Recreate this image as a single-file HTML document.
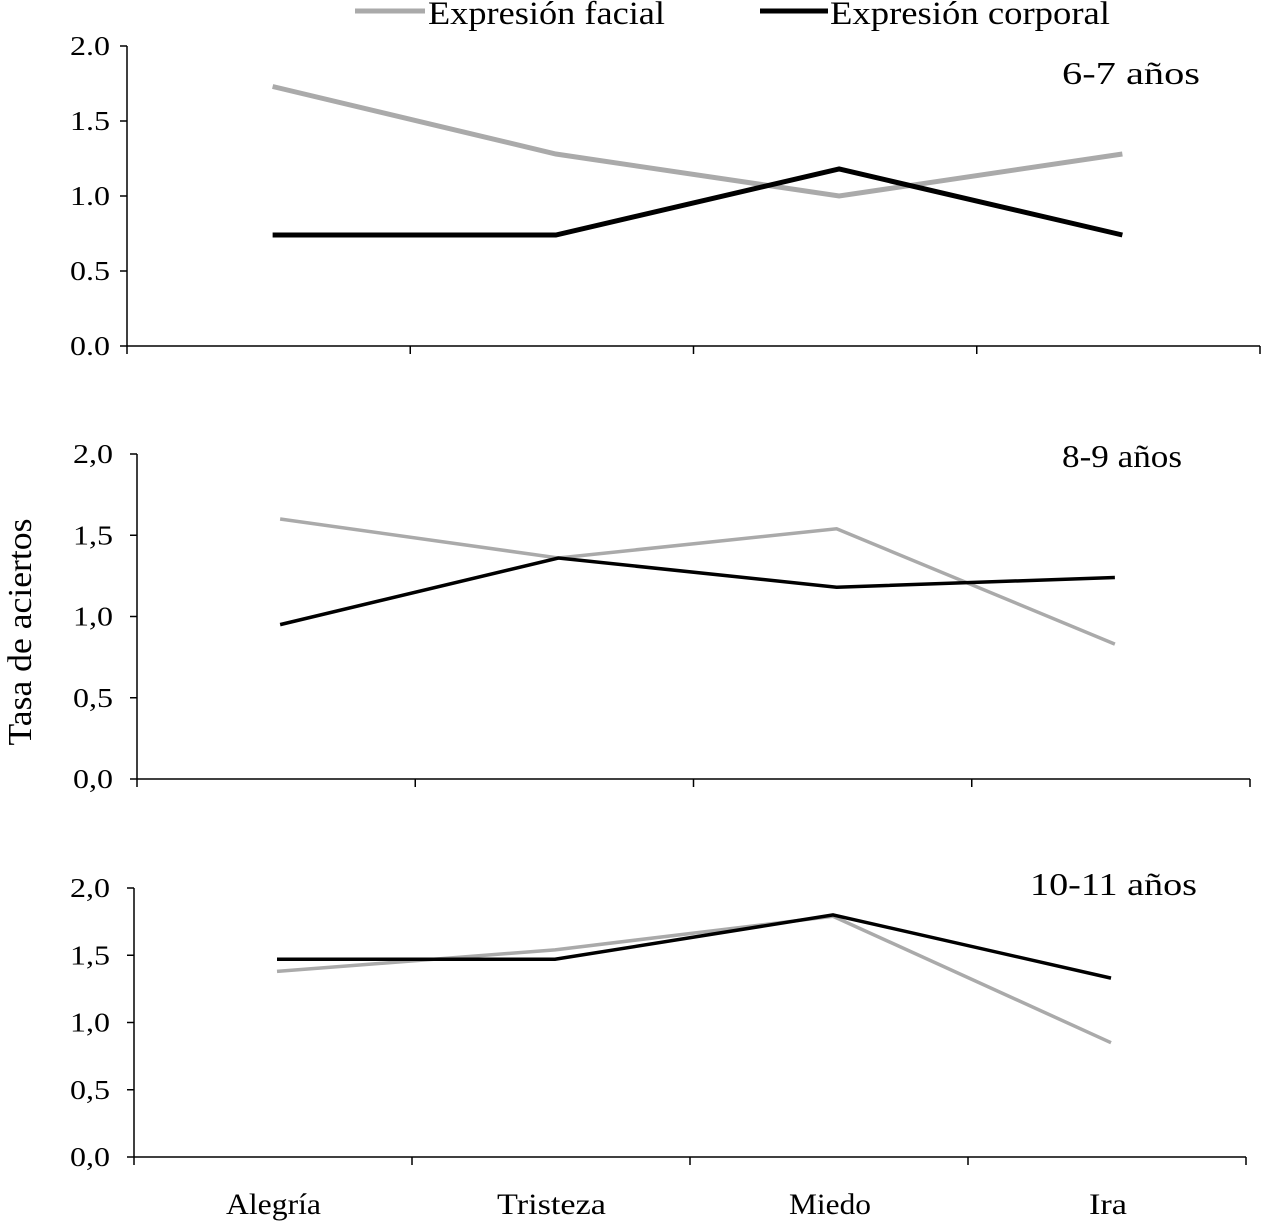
<!DOCTYPE html>
<html><head><meta charset="utf-8"><style>
body{margin:0;background:#fff}
svg text{font-family:"Liberation Serif",serif;fill:#000}
</style></head><body>
<svg width="1261" height="1223" xmlns="http://www.w3.org/2000/svg">
<g id="root"></g>
</svg>
<script>
const categories=["Alegría","Tristeza","Miedo","Ira"];
const facial1=[1.73,1.28,1.0,1.28];
const corporal1=[0.74,0.74,1.18,0.74];
const facial2=[1.6,1.36,1.54,0.83];
const corporal2=[0.95,1.36,1.18,1.24];
const facial3=[1.38,1.54,1.79,0.85];
const corporal3=[1.47,1.47,1.80,1.33];
const ticks1=["0.0","0.5","1.0","1.5","2.0"];
const ticks23=["0,0","0,5","1,0","1,5","2,0"];
const tickVals=[0,0.5,1,1.5,2];
const NS="http://www.w3.org/2000/svg";
const root=document.getElementById('root');
function mk(tag,attrs,parent){const e=document.createElementNS(NS,tag);for(const k in attrs)e.setAttribute(k,attrs[k]);(parent||root).appendChild(e);return e;}
function panel(p){
  const g=mk('g',{});
  
  
  const y=v=>p.y0-(v/2)*(p.y0-p.y2);
  const step=(p.x1-p.x0)/categories.length;
  const x=i=>p.x0+step*(i+0.5)+p.off;
  mk('line',{x1:p.x0,y1:p.y2,x2:p.x0,y2:p.y0,stroke:'#000','stroke-width':1.5},g);
  mk('line',{x1:p.x0,y1:p.y0,x2:p.x1,y2:p.y0,stroke:'#000','stroke-width':1.5},g);
  tickVals.forEach((v,i)=>{
    mk('line',{x1:p.x0-7,y1:y(v),x2:p.x0,y2:y(v),stroke:'#000','stroke-width':1.5},g);
    const t=mk('text',{x:p.x0-p.tg-40,y:y(v)+9,'font-size':27,textLength:40,lengthAdjust:'spacingAndGlyphs'},g);
    t.textContent=p.ticks[i];
    
    
  });
  for(let i=0;i<=categories.length;i++){
    const xx=p.x0+step*i;
    mk('line',{x1:xx,y1:p.y0,x2:xx,y2:p.y0+8,stroke:'#000','stroke-width':1.5},g);
  }
  [[p.f,'#aaaaaa','facial-line'],[p.c,'#000','corporal-line']].forEach(([d,col,n])=>{
    const l=mk('polyline',{points:d.map((v,i)=>x(i)+','+y(v)).join(' '),fill:'none',stroke:col,'stroke-width':p.sw},g);
    
    
  });
  const t=mk('text',{x:p.lx,y:p.ly,'font-size':32,textLength:p.lw,lengthAdjust:'spacingAndGlyphs'},g);
  t.textContent=p.label;
  
  
}
panel({name:'panel-6-7',x0:127,x1:1260,y0:346,y2:46,f:facial1,c:corporal1,ticks:ticks1,sw:5,off:4,tg:17,label:'6-7 años',lx:1062,ly:84,lw:138});
panel({name:'panel-8-9',x0:137,x1:1250,y0:779,y2:454,f:facial2,c:corporal2,ticks:ticks23,sw:3.5,off:4,tg:24,label:'8-9 años',lx:1062,ly:467,lw:120});
panel({name:'panel-10-11',x0:134,x1:1246,y0:1157,y2:888,f:facial3,c:corporal3,ticks:ticks23,sw:3.5,off:4,tg:24,label:'10-11 años',lx:1030,ly:895,lw:167});
const catX=[226,497,789,1089];
const catW=[95,109,82,38];
categories.forEach((c,i)=>{
  const t=mk('text',{x:catX[i],y:1214,'font-size':30,textLength:catW[i],lengthAdjust:'spacingAndGlyphs'});
  t.textContent=c;
  
  
});
const yt=mk('text',{x:0,y:0,'text-anchor':'middle','font-size':34,textLength:227,lengthAdjust:'spacingAndGlyphs',transform:'translate(31,632) rotate(-90)'});
yt.textContent='Tasa de aciertos';


const lg=mk('g',{});


mk('line',{x1:355,y1:11,x2:425,y2:11,stroke:'#aaaaaa','stroke-width':5},lg);
let lt=mk('text',{x:428,y:24,'font-size':33,textLength:237,lengthAdjust:'spacingAndGlyphs'},lg);lt.textContent='Expresión facial';
mk('line',{x1:760,y1:11,x2:828,y2:11,stroke:'#000','stroke-width':5},lg);
lt=mk('text',{x:830,y:24,'font-size':33,textLength:280,lengthAdjust:'spacingAndGlyphs'},lg);lt.textContent='Expresión corporal';
</script>
</body></html>
